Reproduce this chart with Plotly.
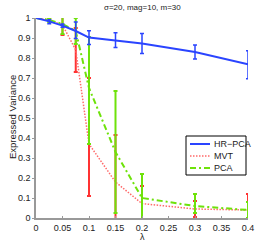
import plotly.graph_objects as go

lam = [0, 0.025, 0.05, 0.075, 0.1, 0.15, 0.2, 0.3, 0.4]

hr_mean = [1.0, 0.983, 0.962, 0.935, 0.902, 0.888, 0.873, 0.830, 0.768]
hr_up   = [None, 0.008, 0.008, 0.045, 0.034, 0.038, 0.050, 0.035, 0.068]
hr_dn   = [None, 0.012, 0.008, 0.037, 0.035, 0.035, 0.050, 0.035, 0.072]

mvt_mean = [1.0, 0.99, 0.965, 0.84, 0.37, 0.18, 0.072, 0.045, 0.04]
mvt_up   = [None, 0.008, 0.04, 0.11, 0.33, 0.235, 0.088, 0.04, 0.08]
mvt_dn   = [None, 0.008, 0.05, 0.11, 0.26, 0.19, 0.09, 0.04, 0.08]

pca_mean = [1.0, 0.99, 0.97, 0.935, 0.65, 0.33, 0.10, 0.06, 0.04]
pca_up   = [None, 0.01, 0.05, 0.065, 0.255, 0.305, 0.12, 0.06, 0.04]
pca_dn   = [None, 0.01, 0.05, 0.065, 0.28, 0.305, 0.12, 0.035, 0.04]

series_names = ["HR−PCA", "MVT", "PCA"]

BLUE = "#2a44ff"
RED = "#ff3333"
PINK = "#ff6a6a"
GREEN = "#6ee20a"
MVT_DASH = "1.5px,1.5px"
PCA_DASH = "6px,3px,2px,3px"

fig = go.Figure()

fig.add_trace(go.Scatter(
    x=lam, y=mvt_mean, mode="lines", name=series_names[1],
    line=dict(color=PINK, width=1.5, dash=MVT_DASH),
    error_y=dict(type="data", symmetric=False, array=mvt_up, arrayminus=mvt_dn,
                 color=RED, thickness=2, width=2),
))
fig.add_trace(go.Scatter(
    x=lam, y=pca_mean, mode="lines", name=series_names[2],
    line=dict(color=GREEN, width=2, dash=PCA_DASH),
    error_y=dict(type="data", symmetric=False, array=pca_up, arrayminus=pca_dn,
                 color=GREEN, thickness=2, width=2),
))
fig.add_trace(go.Scatter(
    x=lam, y=hr_mean, mode="lines", name=series_names[0],
    line=dict(color=BLUE, width=2),
    error_y=dict(type="data", symmetric=False, array=hr_up, arrayminus=hr_dn,
                 color=BLUE, thickness=1.5, width=2),
))

# plot area in pixels: x 36..248, y 18..218
PL, PR, PT, PB = 36, 248, 18, 218
def px(x):
    return (x - PL) / (PR - PL)
def py(y):
    return (PB - y) / (PB - PT)

font = "Liberation Sans, Arial, sans-serif"

shapes = [dict(type="rect", xref="paper", yref="paper",
               x0=px(186), x1=px(246), y0=py(175), y1=py(136),
               line=dict(color="black", width=1), fillcolor="white", layer="above")]
annotations = []
leg_styles = [(BLUE, 2, "solid"), (PINK, 1.5, MVT_DASH), (GREEN, 2, PCA_DASH)]
leg_rows = [144, 156, 168]
for name, (c, w, d), ry in zip(series_names, leg_styles, leg_rows):
    shapes.append(dict(type="line", xref="paper", yref="paper",
                       x0=px(190), x1=px(210), y0=py(ry), y1=py(ry),
                       line=dict(color=c, width=w, dash=d), layer="above"))
    annotations.append(dict(text=name, x=px(212), y=py(ry), xref="paper", yref="paper",
                            showarrow=False, xanchor="left", yanchor="middle",
                            font=dict(size=9, color="#222")))

annotations += [
    dict(text="σ=20, mag=10, m=30", x=0.5, y=py(7), xref="paper", yref="paper",
         showarrow=False, font=dict(size=8), xanchor="center", yanchor="middle"),
    dict(text="λ", x=0.5, y=py(237), xref="paper", yref="paper",
         showarrow=False, font=dict(size=9), xanchor="center", yanchor="middle"),
    dict(text="Expressed Variance", x=px(12), y=py(117), xref="paper", yref="paper",
         textangle=-90, showarrow=False, font=dict(size=9.5),
         xanchor="center", yanchor="middle"),
]

fig.update_layout(
    width=274, height=245,
    margin=dict(l=PL, r=274 - PR, t=PT, b=245 - PB, autoexpand=False),
    paper_bgcolor="white", plot_bgcolor="white",
    font=dict(family=font, size=9, color="#222"),
    showlegend=False,
    xaxis=dict(range=[0, 0.4], tickvals=[0, 0.05, 0.1, 0.15, 0.2, 0.25, 0.3, 0.35, 0.4],
               ticktext=["0", "0.05", "0.1", "0.15", "0.2", "0.25", "0.3", "0.35", "0.4"],
               showgrid=False, zeroline=False, showline=True, linecolor="#999",
               linewidth=1.5, ticks="inside", ticklen=2, tickcolor="#999",
               tickfont=dict(size=9), automargin=False),
    yaxis=dict(range=[0, 1], tickvals=[0, 0.1, 0.2, 0.3, 0.4, 0.5, 0.6, 0.7, 0.8, 0.9, 1],
               ticktext=["0", "0.1", "0.2", "0.3", "0.4", "0.5", "0.6", "0.7", "0.8", "0.9", "1"],
               showgrid=False, zeroline=False, showline=True, linecolor="#999",
               linewidth=1.5, ticks="outside", ticklen=2, tickcolor="#999",
               tickfont=dict(size=9), automargin=False),
    shapes=shapes,
    annotations=annotations,
)

fig.write_html("out.html", config={"displayModeBar": False},
               post_script="document.body.style.margin='0';document.body.style.overflow='hidden';")
